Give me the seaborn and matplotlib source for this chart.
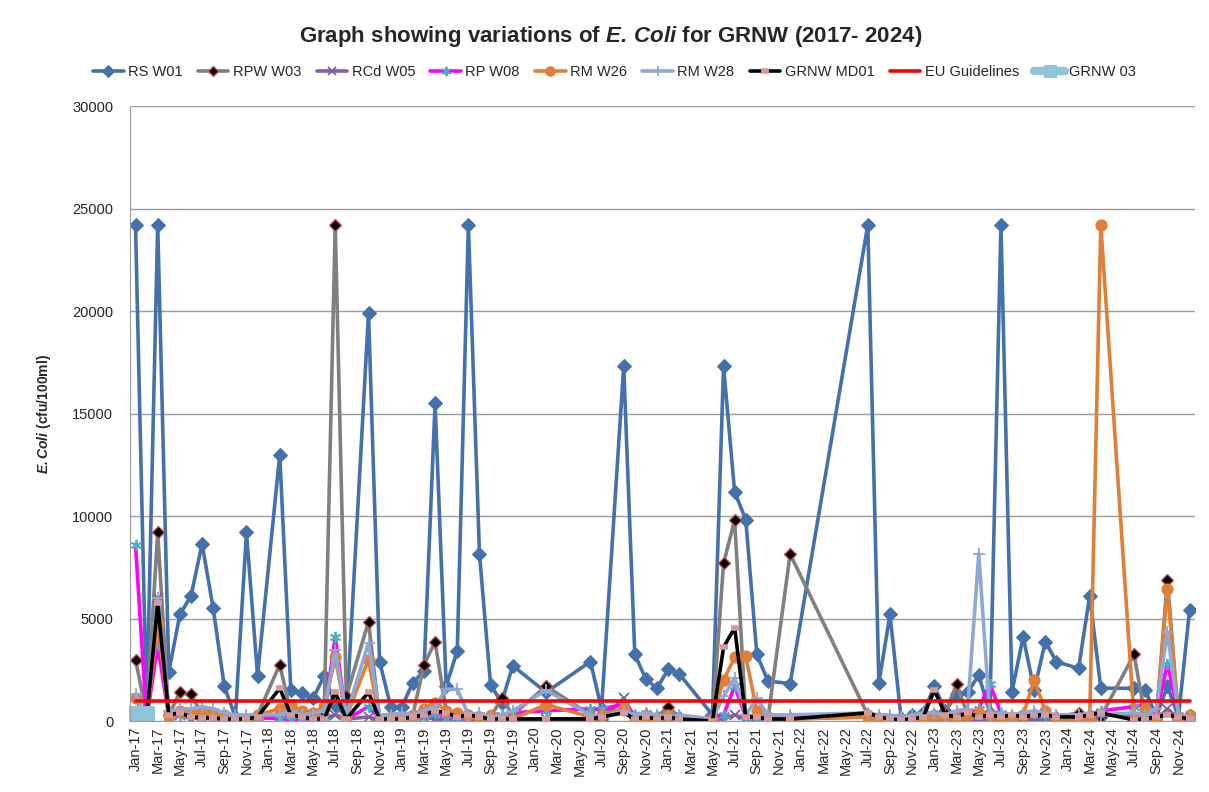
import matplotlib
matplotlib.use("Agg")
import matplotlib.pyplot as plt
import seaborn as sns
import pandas as pd

# sampling months (gaps in the record are simply skipped, lines join across them)
months = [
    "2017-01", "2017-02", "2017-03", "2017-04", "2017-05", "2017-06", "2017-07", "2017-08", "2017-09", "2017-10", "2017-11", "2017-12",
    "2018-02", "2018-03", "2018-04", "2018-05", "2018-06", "2018-07", "2018-08", "2018-10", "2018-11", "2018-12",
    "2019-01", "2019-02", "2019-03", "2019-04", "2019-05", "2019-06", "2019-07", "2019-08", "2019-09", "2019-10", "2019-11",
    "2020-02", "2020-06", "2020-07", "2020-09", "2020-10", "2020-11", "2020-12",
    "2021-01", "2021-02", "2021-05", "2021-06", "2021-07", "2021-08", "2021-09", "2021-10", "2021-12",
    "2022-07", "2022-08", "2022-09", "2022-10", "2022-11", "2022-12",
    "2023-01", "2023-02", "2023-03", "2023-04", "2023-05", "2023-06", "2023-07", "2023-08", "2023-09", "2023-10", "2023-11", "2023-12",
    "2024-02", "2024-03", "2024-04", "2024-07", "2024-08", "2024-09", "2024-10", "2024-11", "2024-12",
]

rs_w01 = [24200, 500, 24200, 2400, 5200, 6100, 8650, 5500, 1700, 200, 9200, 2200,
          13000, 1500, 1350, 1100, 2200, 800, 200, 19900, 2900, 700,
          700, 1870, 2450, 15500, 1700, 3430, 24200, 8150, 1770, 900, 2700,
          1400, 2900, 600, 17300, 3250, 2040, 1600,
          2520, 2300, 300, 17300, 11170, 9830, 3250, 1950, 1830,
          24200, 1860, 5200, 150, 300, 400,
          1700, 500, 1300, 1400, 2240, 400, 24200, 1430, 4110, 1510, 3870, 2890,
          2570, 6120, 1600, 1600, 1530, 200, 1700, 200, 5410]

rpw_w03 = [3000, 300, 9200, 300, 1400, 1300, 300, 200, 200, 100, 100, 300,
           2750, 400, 200, 150, 300, 24200, 1200, 4850, 50, 200,
           200, 300, 2750, 3850, 500, 200, 200, 100, 200, 1100, 300,
           1700, 300, 100, 600, 200, 300, 200,
           700, 200, 50, 7700, 9800, 200, 100, 100, 8150,
           300, 100, 50, 100, 50, 100,
           300, 400, 1800, 300, 200, 100, 200, 100, 300, 200, 300, 200,
           400, 300, 200, 3250, 200, 100, 6900, 100, 300]

rcd_w05 = [300, 100, 6000, 200, 300, 100, 200, 100, 100, 50, 50, 100,
           200, 150, 100, 100, 100, 300, 100, 200, 50, 100,
           100, 100, 200, 100, 50, 50, 100, 50, 100, 150, 100,
           100, 100, 50, 1100, 200, 100, 50,
           100, 50, 100, 100, 300, 100, 50, 50, 100,
           200, 100, 50, 50, 100, 100,
           100, 50, 100, 50, 100, 50, 100, 50, 50, 100, 50, 100,
           100, 100, 300, 200, 100, 50, 600, 100, 50]

rp_w08 = [8600, 50, 3700, 200, 300, 400, 300, 200, 100, 100, 100, 200,
          100, 50, 100, 100, 200, 4100, 100, 700, 100, 100,
          100, 200, 300, 400, 100, 200, 300, 100, 200, 300, 400,
          500, 600, 600, 800, 300, 400, 200,
          300, 200, 100, 300, 1700, 200, 100, 100, 200,
          300, 200, 100, 200, 100, 200,
          300, 200, 400, 300, 600, 1800, 400, 200, 300, 400, 300, 200,
          200, 300, 500, 700, 800, 300, 2800, 300, 200]

rm_w26 = [1100, 50, 4800, 300, 500, 400, 500, 400, 300, 100, 50, 300,
          600, 800, 500, 400, 700, 3100, 200, 3000, 0, 200,
          200, 300, 600, 900, 500, 400, 300, 200, 300, 100, 100,
          800, 200, 300, 600, 100, 200, 100,
          300, 100, 100, 2000, 3100, 3150, 500, 200, 100,
          200, 100, 0, 100, 50, 100,
          300, 100, 200, 300, 400, 300, 100, 200, 300, 2000, 500, 100,
          100, 100, 24200, 100, 600, 100, 6450, 200, 300]

rm_w28 = [1300, 100, 6000, 500, 600, 600, 700, 600, 400, 300, 300, 300,
          300, 500, 300, 400, 500, 3450, 300, 3800, 300, 300,
          400, 300, 500, 700, 1550, 1550, 300, 400, 200, 300, 500,
          1500, 300, 200, 500, 300, 400, 300,
          200, 300, 100, 1200, 2100, 300, 1100, 300, 300,
          400, 300, 300, 200, 300, 400,
          400, 300, 500, 600, 8150, 300, 400, 300, 400, 500, 400, 300,
          300, 400, 300, 400, 300, 600, 4350, 300, 200]

grnw_md01 = [None, 100, 5750, 300, 400, 200, 150, 150, 100, 100, 100, 200,
             1600, 300, 200, 100, 100, 1400, 100, 1400, 100, 100,
             100, 200, 300, 500, 400, 200, 300, 200, 100, 100, 100,
             100, 100, 200, 400, 100, 200, 100,
             200, 100, 0, 3600, 4550, 200, 200, 100, 100,
             400, 200, 100, 50, 100, 200,
             1500, 300, 200, 400, 200, 300, 200, 300, 200, 300, 300, 200,
             200, 300, 400, 50, 100, 200, 300, 200, 100]

eu_guideline = 1000
grnw_03_months = ["2017-01", "2017-02"]
grnw_03 = [400, 400]

df = pd.DataFrame({"month": months, "RS W01": rs_w01, "RPW W03": rpw_w03, "RCd W05": rcd_w05,
                   "RP W08": rp_w08, "RM W26": rm_w26, "RM W28": rm_w28, "GRNW MD01": grnw_md01})
df["EU Guidelines"] = eu_guideline


def month_index(labels):
    p = pd.PeriodIndex(labels, freq="M")
    return (p.year - 2017) * 12 + p.month - 1


df["m"] = month_index(df["month"])
df03 = pd.DataFrame({"m": month_index(grnw_03_months), "GRNW 03": grnw_03})

sns.set_style("white")
plt.rcParams["font.family"] = ["Liberation Sans", "DejaVu Sans"]
plt.rcParams["mathtext.fontset"] = "custom"
plt.rcParams["mathtext.it"] = "Liberation Sans:italic"
plt.rcParams["mathtext.bf"] = "Liberation Sans:bold"
if "mathtext.bfit" in plt.rcParams:
    plt.rcParams["mathtext.bfit"] = "Liberation Sans:italic:bold"

fig = plt.figure(figsize=(12.09, 7.92), dpi=100)
ax = fig.add_axes([0.1075, 0.0896, 0.881, 0.7764])

styles = {
    "RS W01": dict(color="#4471AB", marker="D", ms=7, mfc="#4471AB", mec="#4471AB"),
    "RPW W03": dict(color="#808080", marker="D", ms=6, mfc="black", mec="#C0504D", mew=1),
    "RCd W05": dict(color="#7E5FA0", marker="x", ms=7, mec="#7E5FA0", mew=1.3),
    "RP W08": dict(color="#FF00FF", marker=(6, 2, 0), ms=8, mec="#4BACC6", mew=1.3),
    "RM W26": dict(color="#E07F38", marker="o", ms=8, mfc="#E07F38", mec="#E07F38"),
    "RM W28": dict(color="#8FA8D4", marker="+", ms=9, mec="#8FA8D4", mew=1.3),
    "GRNW MD01": dict(color="black", marker="_", ms=6, mec="#D69A9A", mew=4),
    "EU Guidelines": dict(color="#FF0000", marker=None),
}

for name, st in styles.items():
    d = df[["m", name]].dropna()
    sns.lineplot(data=d, x="m", y=name, ax=ax, lw=2.6, label=name, **st)

sns.lineplot(data=df03, x="m", y="GRNW 03", ax=ax, lw=6, color="#92C4D7", marker="s",
             ms=10, mfc="#92C4D7", mec="#92C4D7", label="GRNW 03", clip_on=False)

ax.set_xlim(-0.5, 95.5)
ax.set_ylim(0, 30000)
ax.set_yticks(range(0, 30001, 5000))
tick_m = list(range(0, 95, 2))
tick_labels = pd.period_range("2017-01", periods=len(tick_m), freq="2M").strftime("%b-%y")
ax.set_xticks(tick_m)
ax.set_xticklabels(tick_labels, rotation=90, fontsize=10.5)
ax.tick_params(axis="y", labelsize=10.5, length=0, pad=12)
ax.tick_params(axis="x", length=0, pad=4)
ax.grid(axis="y", color="#9C9C9C", lw=1)
ax.grid(axis="x", visible=False)
for s in ["top", "right"]:
    ax.spines[s].set_visible(False)
for s in ["left", "bottom"]:
    ax.spines[s].set_color("#9C9C9C")
ax.set_xlabel("")
ax.set_ylabel(r"$\mathbfit{E.Coli}$ (cfu/100ml)", fontsize=10, fontweight="bold", labelpad=14)

handles, labels = ax.get_legend_handles_labels()
ax.legend(handles, labels, loc="center", bbox_to_anchor=(0.455, 1.055), ncol=9, frameon=False,
          fontsize=10.5, handlelength=2.1, handletextpad=0.3, columnspacing=1.05,
          markerscale=0.85)

fig.suptitle(r"Graph showing variations of $\mathbfit{E.\,Coli}$ for GRNW (2017- 2024)",
             x=0.505, y=0.97, fontsize=16, fontweight="bold")

fig.savefig("out.png", dpi=100)
